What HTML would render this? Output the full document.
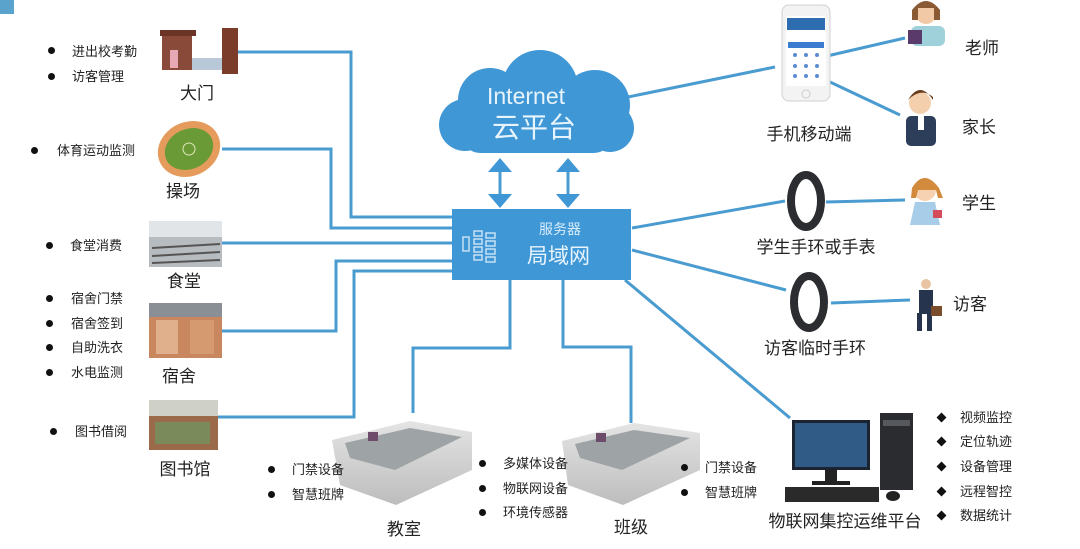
<!DOCTYPE html>
<html><head><meta charset="utf-8"><style>
html,body{margin:0;padding:0;background:#fff;}
body{width:1080px;height:549px;position:relative;overflow:hidden;font-family:"Liberation Sans","Noto Sans CJK SC",sans-serif;color:#222;}
.t{position:absolute;white-space:nowrap;font-size:13px;line-height:1;}
.l{position:absolute;white-space:nowrap;font-size:17px;line-height:1;transform:translateX(-50%);}
.d{position:absolute;width:7px;height:7px;border-radius:50%;background:#111;}
.m{position:absolute;width:7px;height:7px;background:#111;transform:rotate(45deg);}
</style></head><body>
<svg width="1080" height="549" style="position:absolute;left:0;top:0">
<defs>
<linearGradient id="wall" x1="0" y1="0" x2="0" y2="1"><stop offset="0" stop-color="#e4e4e4"/><stop offset="1" stop-color="#bdbdbd"/></linearGradient>
</defs>
<rect x="0" y="0" width="14" height="14" fill="#5aa3cc"/>
<g stroke="#4a9bd0" stroke-width="3" fill="none">
<polyline points="238,52 351,52 351,217 452,217"/>
<polyline points="222,149 331,149 331,228 452,228"/>
<polyline points="222,243 452,243"/>
<polyline points="222,331 336,331 336,261 452,261"/>
<polyline points="218,417 354,417 354,271 452,271"/>
<polyline points="510,280 510,348 413,348 413,413"/>
<polyline points="563,280 563,347 631,347 631,423"/>
<line x1="632" y1="228" x2="785" y2="201"/>
<line x1="632" y1="250" x2="786" y2="290"/>
<line x1="625" y1="280" x2="790" y2="418"/>
<line x1="628" y1="97" x2="775" y2="67"/>
<line x1="827" y1="56" x2="905" y2="38"/>
<line x1="830" y1="82" x2="900" y2="115"/>
<line x1="826" y1="202" x2="905" y2="200"/>
<line x1="831" y1="303" x2="910" y2="300"/>
<line x1="500" y1="168" x2="500" y2="198"/>
<line x1="568" y1="168" x2="568" y2="198"/>
</g>
<g fill="#3f97d6">
<polygon points="488,172 512,172 500,158"/><polygon points="488,194 512,194 500,208"/>
<polygon points="556,172 580,172 568,158"/><polygon points="556,194 580,194 568,208"/>
<!-- cloud -->
<circle cx="540" cy="88" r="38"/><circle cx="490" cy="100" r="32"/><circle cx="595" cy="105" r="35"/>
<circle cx="465" cy="125" r="26"/><circle cx="610" cy="128" r="24"/>
<rect x="462" y="115" width="150" height="38" rx="18"/>
<rect x="452" y="209" width="179" height="71" fill="#3f97d6"/>
</g>
<g stroke="#cfe6f6" stroke-width="1.4" fill="none">
<rect x="463" y="237" width="6" height="14"/><rect x="474" y="231" width="8" height="5"/><rect x="474" y="239" width="8" height="5"/><rect x="474" y="247" width="8" height="5"/><rect x="474" y="255" width="8" height="5"/>
<rect x="486" y="233" width="9" height="5"/><rect x="486" y="241" width="9" height="5"/><rect x="486" y="249" width="9" height="5"/><rect x="486" y="257" width="9" height="5"/>
</g>
<!-- gate -->
<rect x="162" y="34" width="30" height="36" fill="#8a4a3a"/><rect x="160" y="30" width="36" height="6" fill="#6b3426"/>
<rect x="170" y="50" width="8" height="18" fill="#e7a9b6"/><rect x="192" y="58" width="30" height="12" fill="#b8c8d8"/>
<rect x="222" y="28" width="16" height="46" fill="#7c3c2a"/>
<!-- playground -->
<ellipse cx="189" cy="149" rx="32" ry="27" fill="#e49b5c" transform="rotate(-25 189 149)"/>
<ellipse cx="189" cy="149" rx="25" ry="20" fill="#6a9a35" transform="rotate(-25 189 149)"/>
<circle cx="189" cy="149" r="6" fill="none" stroke="#dfe8b8"/>
<!-- canteen -->
<rect x="149" y="221" width="73" height="46" fill="#b7bcc0"/><rect x="149" y="221" width="73" height="16" fill="#e2e5e8"/>
<g stroke="#555" stroke-width="2"><line x1="152" y1="248" x2="220" y2="244"/><line x1="152" y1="256" x2="220" y2="252"/><line x1="152" y1="263" x2="220" y2="260"/></g>
<!-- dorm -->
<rect x="149" y="303" width="73" height="55" fill="#c8875e"/><rect x="149" y="303" width="73" height="14" fill="#8a8f96"/>
<rect x="156" y="320" width="22" height="34" fill="#e0b08c"/><rect x="190" y="320" width="24" height="34" fill="#d69a70"/>
<!-- library -->
<rect x="149" y="400" width="69" height="50" fill="#9b6a4a"/><rect x="149" y="400" width="69" height="16" fill="#cfd0c8"/>
<rect x="155" y="422" width="55" height="22" fill="#7a8a5a"/>
<!-- classrooms -->
<g>
<polygon points="332,440 410,421 472,432 472,470 396,505 340,485" fill="url(#wall)"/>
<polygon points="345,443 410,428 462,437 395,470 350,458" fill="#9ea3a6"/>
<polygon points="562,441 634,423 700,433 700,470 623,505 568,485" fill="url(#wall)"/>
<polygon points="575,444 634,430 690,438 622,470 580,458" fill="#9ea3a6"/>
<rect x="368" y="432" width="10" height="9" fill="#6d4b6b"/><rect x="596" y="433" width="10" height="9" fill="#6d4b6b"/>
</g>
<!-- phone -->
<rect x="782" y="5" width="48" height="96" rx="7" fill="#f3f3f3" stroke="#d0d0d0"/>
<rect x="786" y="16" width="40" height="70" fill="#fff"/>
<rect x="787" y="18" width="38" height="12" fill="#2e6db0"/>
<rect x="788" y="42" width="36" height="6" fill="#3b7bd0"/>
<g fill="#5b8bd0"><circle cx="795" cy="55" r="2"/><circle cx="806" cy="55" r="2"/><circle cx="817" cy="55" r="2"/><circle cx="795" cy="66" r="2"/><circle cx="806" cy="66" r="2"/><circle cx="817" cy="66" r="2"/><circle cx="795" cy="76" r="2"/><circle cx="806" cy="76" r="2"/><circle cx="817" cy="76" r="2"/></g>
<circle cx="806" cy="94" r="4" fill="none" stroke="#ccc"/>
<!-- bands -->
<g fill="none" stroke="#2b2d30" stroke-width="8"><ellipse cx="806" cy="201" rx="15" ry="26"/><ellipse cx="809" cy="302" rx="15" ry="26"/></g>
<!-- people -->
<circle cx="926" cy="14" r="10" fill="#f2c9a6"/><path d="M912 10 q14 -18 28 0 v10 h-6 v-12 h-16 v12 h-6z" fill="#8a5a34"/>
<rect x="911" y="26" width="34" height="20" rx="6" fill="#9ed1d9"/><rect x="908" y="30" width="14" height="14" fill="#5a3a6a"/>
<circle cx="920" cy="103" r="11" fill="#f4cfae"/><path d="M908 100 q12 -20 25 0 v-3 q-12 -10 -25 3z" fill="#6b3f1e"/>
<rect x="906" y="116" width="30" height="30" rx="5" fill="#2c3e5a"/><rect x="918" y="116" width="6" height="14" fill="#fff"/>
<circle cx="925" cy="190" r="11" fill="#f6d2b2"/><path d="M912 188 q12 -20 27 0 l4 10 -5 0 -2 -8 -18 0 -2 8 -5 0z" fill="#d28a3c"/>
<polygon points="915,202 935,202 940,225 910,225" fill="#a8cde8"/><rect x="933" y="210" width="9" height="8" fill="#d44c5c"/>
<circle cx="926" cy="284" r="5" fill="#e9c4a2"/><rect x="919" y="290" width="14" height="24" fill="#26344e"/>
<rect x="917" y="313" width="5" height="18" fill="#26344e"/><rect x="927" y="313" width="5" height="18" fill="#26344e"/><rect x="931" y="306" width="11" height="10" fill="#7a4e2c"/>
<!-- computer -->
<rect x="792" y="420" width="78" height="50" fill="#1b2330"/><rect x="795" y="423" width="72" height="44" fill="#2f5b86"/>
<rect x="825" y="470" width="12" height="12" fill="#222"/><rect x="812" y="481" width="38" height="4" fill="#222"/>
<rect x="785" y="487" width="94" height="15" fill="#2a2a2a"/><ellipse cx="893" cy="496" rx="7" ry="5" fill="#222"/>
<rect x="880" y="413" width="33" height="77" fill="#2a2c30"/><rect x="883" y="420" width="27" height="6" fill="#55585c"/>
</svg>
<div class="t" style="left:487px;top:85px;font-size:23px;color:#e8f4fc">Internet</div>
<div class="t" style="left:492px;top:114px;font-size:28px;color:#e8f4fc">云平台</div>
<div class="t" style="left:539px;top:222px;font-size:14px;color:#d8ecfa">服务器</div>
<div class="t" style="left:527px;top:246px;font-size:21px;color:#e8f4fc">局域网</div>

<div class="d" style="left:48px;top:47px"></div><div class="t" style="left:72px;top:45px">进出校考勤</div>
<div class="d" style="left:48px;top:73px"></div><div class="t" style="left:72px;top:70px">访客管理</div>
<div class="l" style="left:197px;top:85px">大门</div>
<div class="d" style="left:31px;top:147px"></div><div class="t" style="left:57px;top:144px">体育运动监测</div>
<div class="l" style="left:183px;top:183px">操场</div>
<div class="d" style="left:46px;top:242px"></div><div class="t" style="left:70px;top:239px">食堂消费</div>
<div class="l" style="left:184px;top:273px">食堂</div>
<div class="d" style="left:46px;top:295px"></div><div class="t" style="left:71px;top:292px">宿舍门禁</div>
<div class="d" style="left:46px;top:320px"></div><div class="t" style="left:71px;top:317px">宿舍签到</div>
<div class="d" style="left:46px;top:344px"></div><div class="t" style="left:71px;top:341px">自助洗衣</div>
<div class="d" style="left:46px;top:369px"></div><div class="t" style="left:71px;top:366px">水电监测</div>
<div class="l" style="left:179px;top:368px">宿舍</div>
<div class="d" style="left:50px;top:428px"></div><div class="t" style="left:75px;top:425px">图书借阅</div>
<div class="l" style="left:185px;top:461px">图书馆</div>

<div class="d" style="left:268px;top:466px"></div><div class="t" style="left:292px;top:463px">门禁设备</div>
<div class="d" style="left:268px;top:491px"></div><div class="t" style="left:292px;top:488px">智慧班牌</div>
<div class="d" style="left:479px;top:460px"></div><div class="t" style="left:503px;top:457px">多媒体设备</div>
<div class="d" style="left:479px;top:485px"></div><div class="t" style="left:503px;top:482px">物联网设备</div>
<div class="d" style="left:479px;top:509px"></div><div class="t" style="left:503px;top:506px">环境传感器</div>
<div class="l" style="left:404px;top:521px">教室</div>
<div class="d" style="left:681px;top:464px"></div><div class="t" style="left:705px;top:461px">门禁设备</div>
<div class="d" style="left:681px;top:489px"></div><div class="t" style="left:705px;top:486px">智慧班牌</div>
<div class="l" style="left:631px;top:519px">班级</div>
<div class="l" style="left:845px;top:513px">物联网集控运维平台</div>
<div class="m" style="left:938px;top:414px"></div><div class="t" style="left:960px;top:411px">视频监控</div>
<div class="m" style="left:938px;top:438px"></div><div class="t" style="left:960px;top:435px">定位轨迹</div>
<div class="m" style="left:938px;top:463px"></div><div class="t" style="left:960px;top:460px">设备管理</div>
<div class="m" style="left:938px;top:488px"></div><div class="t" style="left:960px;top:485px">远程智控</div>
<div class="m" style="left:938px;top:512px"></div><div class="t" style="left:960px;top:509px">数据统计</div>

<div class="l" style="left:809px;top:126px">手机移动端</div>
<div class="l" style="left:816px;top:239px">学生手环或手表</div>
<div class="l" style="left:815px;top:340px">访客临时手环</div>
<div class="t" style="left:965px;top:40px;font-size:17px">老师</div>
<div class="t" style="left:962px;top:119px;font-size:17px">家长</div>
<div class="t" style="left:962px;top:195px;font-size:17px">学生</div>
<div class="t" style="left:953px;top:296px;font-size:17px">访客</div>
</body></html>
